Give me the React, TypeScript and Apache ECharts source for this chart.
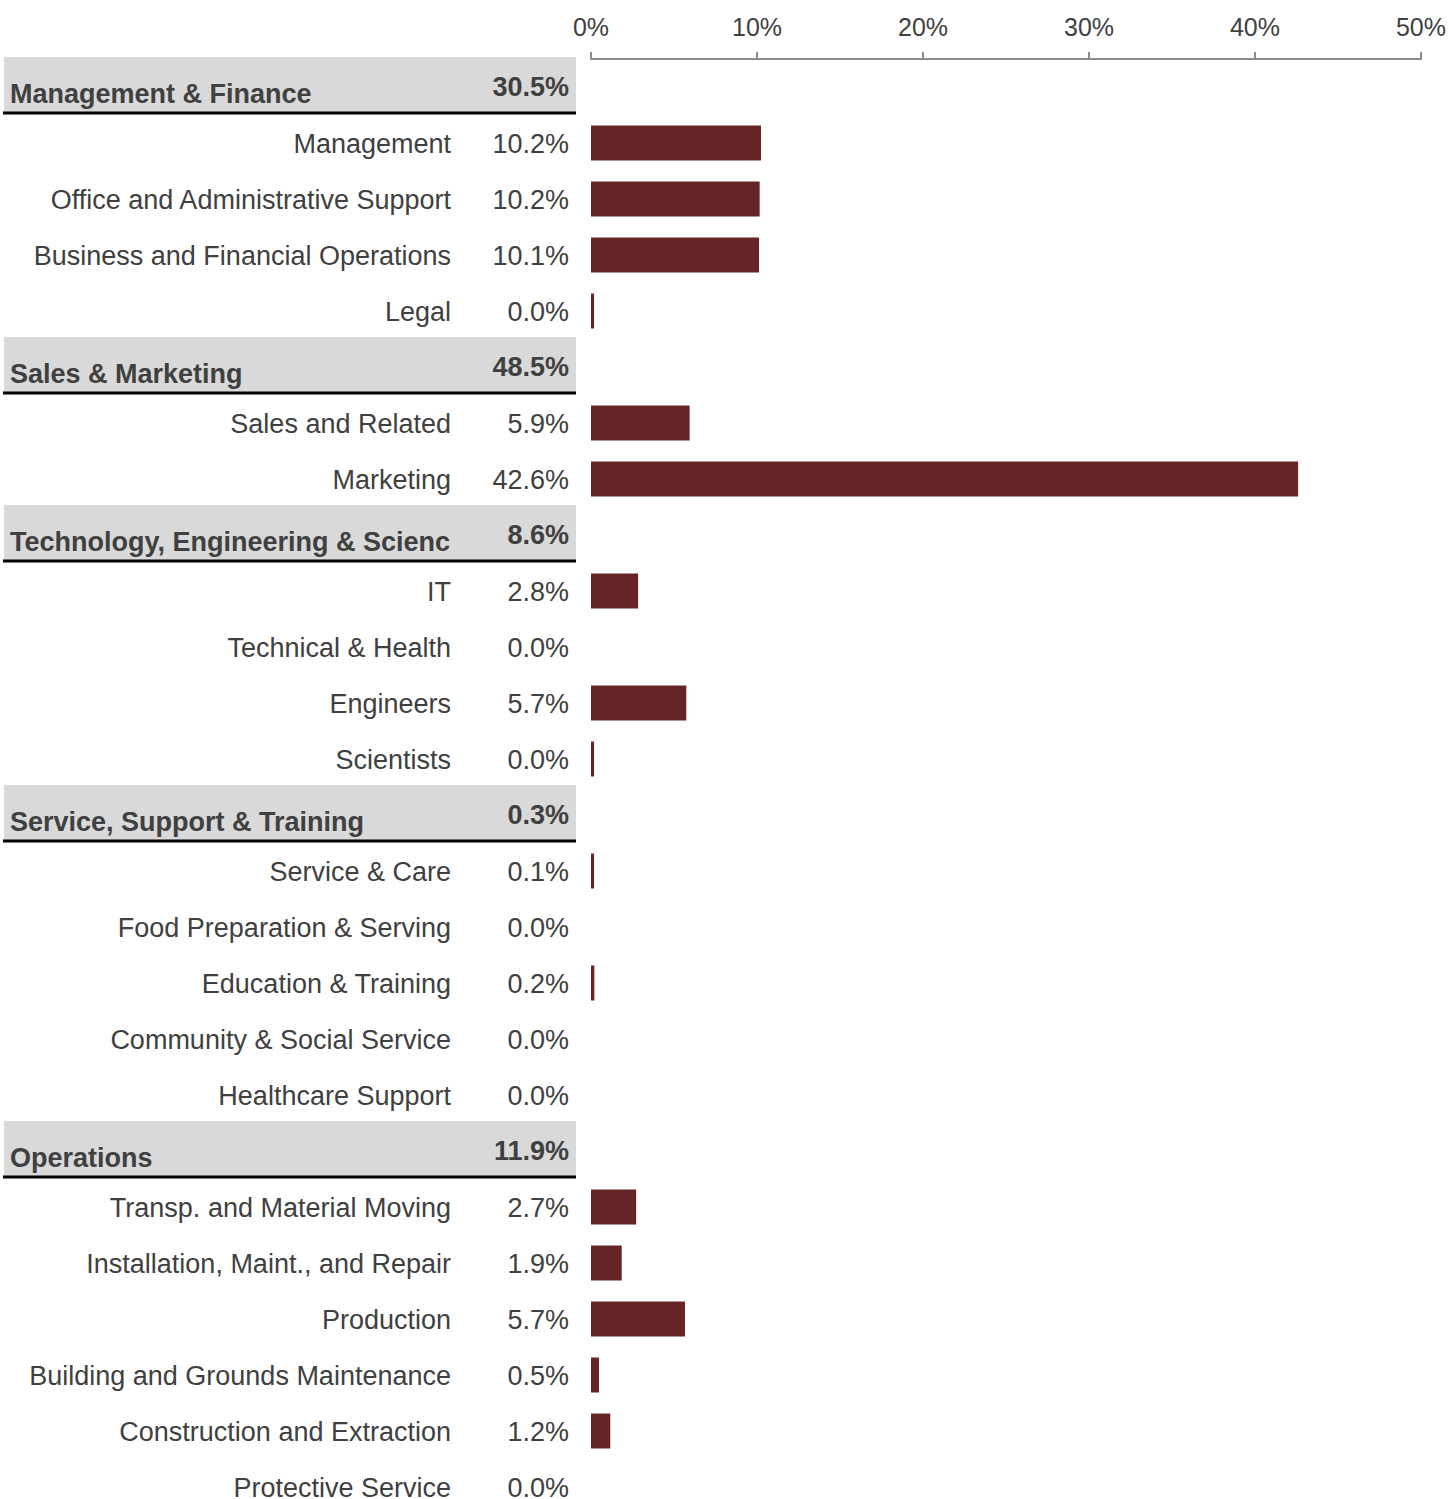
import React, { useEffect, useRef } from "react";
import * as echarts from "echarts";

// Row labels, top to bottom
const rowNames: string[] = [
  "Management & Finance",
  "Management",
  "Office and Administrative Support",
  "Business and Financial Operations",
  "Legal",
  "Sales & Marketing",
  "Sales and Related",
  "Marketing",
  "Technology, Engineering & Scienc",
  "IT",
  "Technical & Health",
  "Engineers",
  "Scientists",
  "Service, Support & Training",
  "Service & Care",
  "Food Preparation & Serving",
  "Education & Training",
  "Community & Social Service",
  "Healthcare Support",
  "Operations",
  "Transp. and Material Moving",
  "Installation, Maint., and Repair",
  "Production",
  "Building and Grounds Maintenance",
  "Construction and Extraction",
  "Protective Service",
];

// true = group header row
const isHeader: boolean[] = [
  true, false, false, false, false,
  true, false, false,
  true, false, false, false, false,
  true, false, false, false, false, false,
  true, false, false, false, false, false, false,
];

// share of total, in %
const shares: number[] = [
  30.5, 10.24, 10.16, 10.12, 0.04,
  48.5, 5.94, 42.6,
  8.6, 2.84, 0, 5.74, 0.04,
  0.3, 0.1, 0, 0.2, 0, 0,
  11.9, 2.72, 1.85, 5.66, 0.48, 1.16, 0,
];

const axisTicks: number[] = [0, 10, 20, 30, 40, 50];

const BAR_COLOR = "#652426";
const TEXT_COLOR = "#404040";
const FONT = "'Liberation Sans', Arial, Helvetica, sans-serif";
const ROW_H = 56;

export default function App() {
  const ref = useRef<HTMLDivElement>(null);

  useEffect(() => {
    if (!ref.current) return;
    const chart = echarts.init(ref.current, null, { renderer: "svg" });

    const barData = shares.map((v, i) => (isHeader[i] || v === 0 ? "-" : v));
    const labelData = rowNames.map((_, i) => [0, i]);

    chart.setOption({
      animation: false,
      backgroundColor: "#ffffff",
      grid: { left: 591, top: 59, width: 830, height: ROW_H * rowNames.length },
      xAxis: {
        type: "value",
        position: "top",
        min: axisTicks[0],
        max: axisTicks[axisTicks.length - 1],
        interval: 10,
        axisLine: { show: true, lineStyle: { color: "#8a8a8a", width: 2 } },
        axisTick: { show: true, length: 7, lineStyle: { color: "#8a8a8a", width: 2 } },
        splitLine: { show: false },
        axisLabel: {
          formatter: "{value}%",
          color: TEXT_COLOR,
          fontSize: 25,
          fontFamily: FONT,
          margin: 20,
        },
      },
      yAxis: {
        type: "category",
        inverse: true,
        data: rowNames,
        axisLine: { show: false },
        axisTick: { show: false },
        axisLabel: { show: false },
        splitLine: { show: false },
      },
      series: [
        {
          type: "bar",
          data: barData,
          barWidth: 35,
          barMinHeight: 3,
          itemStyle: { color: BAR_COLOR },
        },
        {
          type: "custom",
          clip: false,
          data: labelData,
          renderItem: (params: any, api: any) => {
            const i = params.dataIndex;
            const cy = api.coord([0, i])[1];
            const valueText = shares[i].toFixed(1) + "%";
            if (isHeader[i]) {
              return {
                type: "group",
                children: [
                  {
                    type: "rect",
                    shape: { x: 4, y: cy - 30, width: 572, height: 56 },
                    style: { fill: "#d9d9d9" },
                  },
                  {
                    type: "line",
                    shape: { x1: 3, y1: cy + 26, x2: 576, y2: cy + 26 },
                    style: { stroke: "#000000", lineWidth: 3 },
                  },
                  {
                    type: "text",
                    x: 10,
                    y: cy + 7,
                    style: {
                      text: rowNames[i],
                      fill: TEXT_COLOR,
                      fontSize: 27,
                      fontWeight: "bold",
                      fontFamily: FONT,
                      align: "left",
                      verticalAlign: "middle",
                    },
                  },
                  {
                    type: "text",
                    x: 569,
                    y: cy,
                    style: {
                      text: valueText,
                      fill: TEXT_COLOR,
                      fontSize: 27,
                      fontWeight: "bold",
                      fontFamily: FONT,
                      align: "right",
                      verticalAlign: "middle",
                    },
                  },
                ],
              };
            }
            return {
              type: "group",
              children: [
                {
                  type: "text",
                  x: 451,
                  y: cy + 1,
                  style: {
                    text: rowNames[i],
                    fill: TEXT_COLOR,
                    fontSize: 27,
                    fontFamily: FONT,
                    align: "right",
                    verticalAlign: "middle",
                  },
                },
                {
                  type: "text",
                  x: 569,
                  y: cy + 1,
                  style: {
                    text: valueText,
                    fill: TEXT_COLOR,
                    fontSize: 27,
                    fontFamily: FONT,
                    align: "right",
                    verticalAlign: "middle",
                  },
                },
              ],
            };
          },
        },
      ],
    });

    return () => chart.dispose();
  }, []);

  return (
    <div
      style={{
        position: "absolute",
        left: 0,
        top: 0,
        width: 1449,
        height: 1499,
        overflow: "hidden",
        background: "#fff",
      }}
    >
      <div ref={ref} style={{ width: 1449, height: 1530 }} />
    </div>
  );
}
